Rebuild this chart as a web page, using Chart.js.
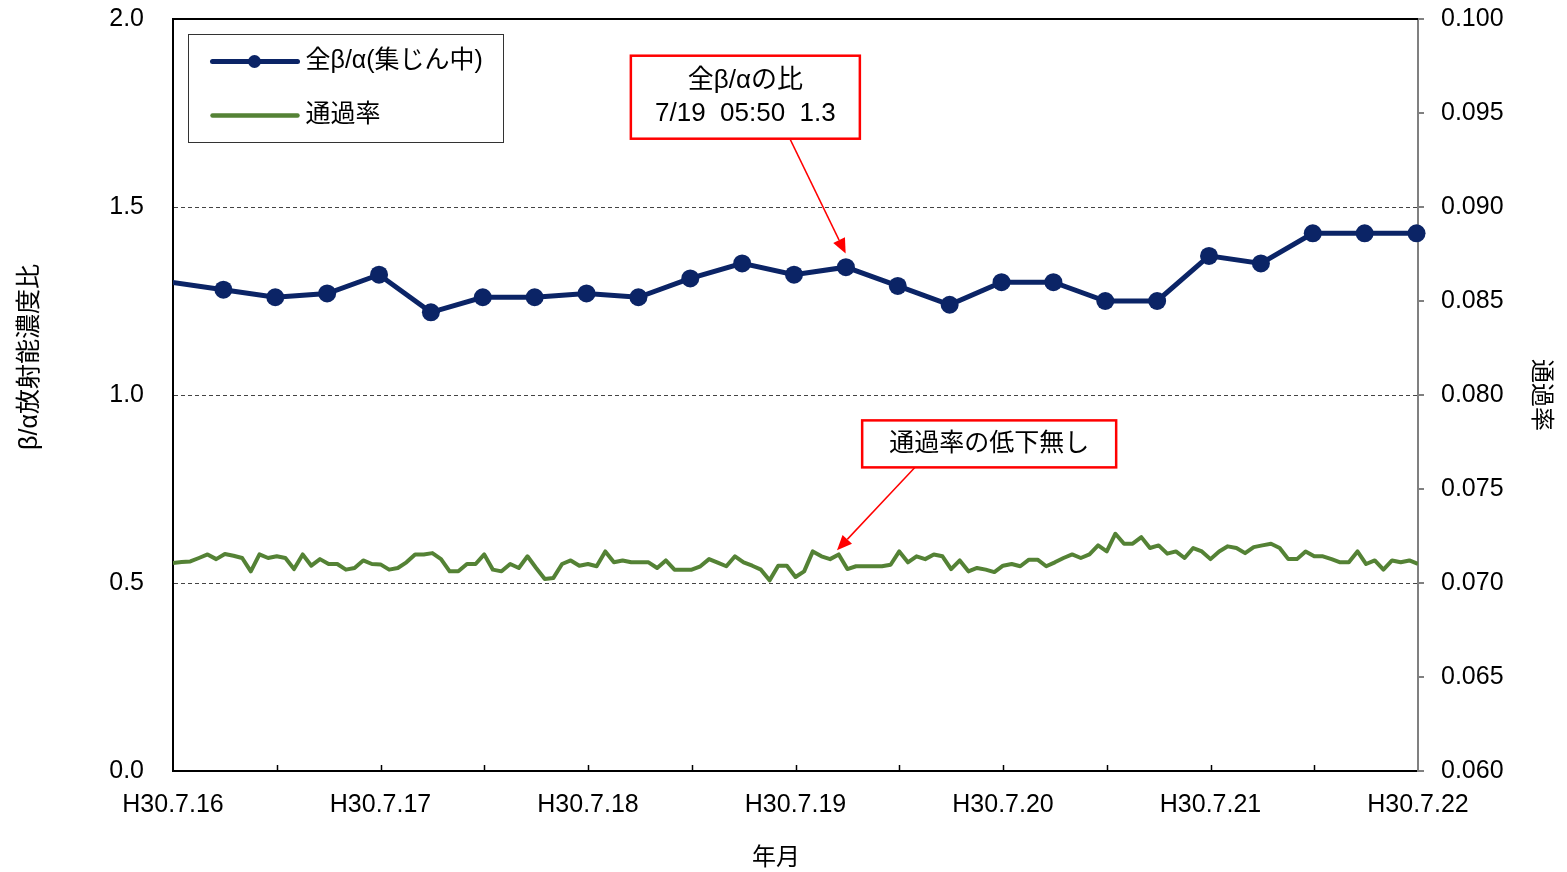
<!DOCTYPE html>
<html><head><meta charset="utf-8">
<script src="https://cdn.jsdelivr.net/npm/chart.js@4/dist/chart.umd.min.js"></script>
<style>html,body{margin:0;padding:0;background:#fff;overflow:hidden}</style>
</head><body>
<canvas id="c" width="1567" height="872" style="display:block"></canvas>
<script>
const dayLabels = ['H30.7.16','H30.7.17','H30.7.18','H30.7.19','H30.7.20','H30.7.21','H30.7.22'];
// hours after H30.7.16 00:00 for each 全β/α sample (6-hourly, xx:50)
const ratioHours = [-0.17,5.83,11.83,17.83,23.83,29.83,35.83,41.83,47.83,53.83,59.83,65.83,71.83,77.83,83.83,89.83,95.83,101.83,107.83,113.83,119.83,125.83,131.83,137.83,143.83];
const ratioValues = [1.30,1.28,1.26,1.27,1.32,1.22,1.26,1.26,1.27,1.26,1.31,1.35,1.32,1.34,1.29,1.24,1.30,1.30,1.25,1.25,1.37,1.35,1.43,1.43,1.43];
// hourly 通過率
const passValues = [
0.07106,0.07112,0.07115,0.07133,0.07152,0.07127,0.07154,0.07145,0.07133,0.07062,0.07152,0.07133,
0.07142,0.07133,0.07074,0.07152,0.07092,0.07127,0.07101,0.07101,0.07071,0.07080,0.07120,0.07101,
0.07099,0.07071,0.07080,0.07110,0.07152,0.07152,0.07159,0.07127,0.07062,0.07062,0.07101,0.07101,
0.07152,0.07071,0.07062,0.07101,0.07080,0.07142,0.07080,0.07021,0.07027,0.07101,0.07120,0.07092,
0.07101,0.07089,0.07168,0.07110,0.07120,0.07110,0.07110,0.07110,0.07080,0.07120,0.07071,0.07071,
0.07071,0.07089,0.07127,0.07108,0.07089,0.07142,0.07110,0.07092,0.07071,0.07014,0.07092,0.07092,
0.07032,0.07062,0.07168,0.07142,0.07127,0.07152,0.07074,0.07089,0.07089,0.07089,0.07089,0.07097,
0.07168,0.07110,0.07142,0.07127,0.07152,0.07142,0.07074,0.07120,0.07062,0.07080,0.07071,0.07058,
0.07092,0.07101,0.07089,0.07124,0.07124,0.07089,0.07110,0.07133,0.07152,0.07133,0.07152,0.07200,
0.07168,0.07262,0.07209,0.07209,0.07244,0.07186,0.07200,0.07156,0.07168,0.07133,0.07186,0.07168,
0.07127,0.07168,0.07195,0.07186,0.07159,0.07191,0.07200,0.07209,0.07186,0.07127,0.07127,0.07168,
0.07142,0.07142,0.07127,0.07110,0.07110,0.07168,0.07101,0.07120,0.07071,0.07120,0.07110,0.07120,
0.07101];
const leftTicks = ['0.0','0.5','1.0','1.5','2.0'];
const seriesNames = ['全β/α(集じん中)','通過率'];
const axisTitles = {x:'年月', y:'β/α放射能濃度比', y2:'通過率'};
const noteRatio = ['全β/αの比','7/19  05:50  1.3'];
const notePass = '通過率の低下無し';

const BLUE = '#0b2466';
const GREEN = '#548235';
const FONT = "'Liberation Sans', Arial, 'Noto Sans CJK JP', sans-serif";

const ratioData = ratioHours.map((h,i)=>({x:h, y:ratioValues[i]}));
const passData = passValues.map((v,i)=>({x:i, y:v}));

function arrow(ctx, x1,y1,x2,y2){
  const ang = Math.atan2(y2-y1, x2-x1);
  const L = 15, W = 6.5;
  const bx = x2 - L*Math.cos(ang), by = y2 - L*Math.sin(ang);
  ctx.beginPath(); ctx.moveTo(x1,y1); ctx.lineTo(bx,by); ctx.stroke();
  ctx.beginPath();
  ctx.moveTo(x2,y2);
  ctx.lineTo(bx + W*Math.sin(ang), by - W*Math.cos(ang));
  ctx.lineTo(bx - W*Math.sin(ang), by + W*Math.cos(ang));
  ctx.closePath(); ctx.fill();
}
function noteBox(ctx, cx, cy, w, h, lines, lh, size){
  ctx.fillStyle='#fff'; ctx.fillRect(cx-w/2, cy-h/2, w, h);
  ctx.strokeStyle='#ff0000'; ctx.lineWidth=2.5; ctx.strokeRect(cx-w/2, cy-h/2, w, h);
  ctx.fillStyle='#000'; ctx.font=size+'px '+FONT; ctx.textAlign='center'; ctx.textBaseline='middle';
  const n = lines.length;
  lines.forEach((t,i)=>ctx.fillText(t, cx, cy + (i-(n-1)/2)*lh));
}
function noPad(s){ s.paddingTop=0; s.paddingBottom=0; s.paddingLeft=0; s.paddingRight=0; }

const decor = {
  id:'decor',
  beforeDatasetsDraw(chart){
    const {ctx, chartArea:a, scales:{x}} = chart;
    ctx.save();
    ctx.strokeStyle='#000'; ctx.lineWidth=2;
    ctx.beginPath(); ctx.moveTo(a.left-1, a.top); ctx.lineTo(a.right, a.top); ctx.stroke();
    ctx.lineWidth=1.5;
    for (let v=12; v<144; v+=12){
      const px = Math.round(x.getPixelForValue(v))+0.5;
      ctx.beginPath(); ctx.moveTo(px, a.bottom); ctx.lineTo(px, a.bottom-6); ctx.stroke();
    }
    // axis titles (x and left)
    ctx.fillStyle='#000'; ctx.textAlign='center'; ctx.textBaseline='middle';
    ctx.font='24px '+FONT;
    ctx.fillText(axisTitles.x, 776, 858);
    ctx.save(); ctx.translate(30, 357); ctx.rotate(-Math.PI/2);
    ctx.font='25px '+FONT; ctx.fillText(axisTitles.y, 0, 0); ctx.restore();
    ctx.restore();
  },
  afterDraw(chart){
    const {ctx, chartArea:a, scales:{x, y}} = chart;
    ctx.save();
    // legend
    const lx = a.left+15.5, ly = a.top+15.5, lw = 315, lh = 108;
    ctx.fillStyle='#fff'; ctx.fillRect(lx,ly,lw,lh);
    ctx.strokeStyle='#333'; ctx.lineWidth=1; ctx.strokeRect(lx,ly,lw,lh);
    const ds = chart.data.datasets;
    const rows = [ly+27, ly+81];
    ds.forEach((d,i)=>{
      ctx.strokeStyle=d.borderColor; ctx.lineWidth=i===0?5:4.5; ctx.lineCap='round';
      ctx.beginPath(); ctx.moveTo(lx+24, rows[i]); ctx.lineTo(lx+109, rows[i]); ctx.stroke();
      if (i===0){ ctx.fillStyle=d.borderColor; ctx.beginPath(); ctx.arc(lx+66, rows[i], 6.5, 0, Math.PI*2); ctx.fill(); }
      ctx.fillStyle='#000'; ctx.font='25px '+FONT; ctx.textAlign='left'; ctx.textBaseline='middle';
      ctx.fillText(d.label, lx+117, rows[i]);
    });
    ctx.lineCap='butt';
    // arrows
    ctx.strokeStyle='#ff0000'; ctx.fillStyle='#ff0000'; ctx.lineWidth=1.5;
    arrow(ctx, x.getPixelForValue(71.4), y.getPixelForValue(1.679), x.getPixelForValue(77.8), y.getPixelForValue(1.376));
    arrow(ctx, x.getPixelForValue(85.8), y.getPixelForValue(0.807), x.getPixelForValue(76.8), y.getPixelForValue(0.587));
    // note boxes
    noteBox(ctx, x.getPixelForValue(66.2), y.getPixelForValue(1.792), 229, 83, noteRatio, 33, 26);
    noteBox(ctx, x.getPixelForValue(94.4), y.getPixelForValue(0.870), 254, 47, [notePass], 0, 25);
    ctx.restore();
  }
};

new Chart(document.getElementById('c'), {
  type:'line',
  data:{datasets:[
    {label:seriesNames[0], data:ratioData, yAxisID:'y', borderColor:BLUE, backgroundColor:BLUE,
     borderWidth:5, pointBackgroundColor:BLUE, pointBorderColor:BLUE, pointBorderWidth:0,
     pointRadius:(c)=> (c.raw && c.raw.x < 0) ? 0 : 9, tension:0, clip:{left:0,top:false,right:12,bottom:false}},
    {label:seriesNames[1], data:passData, yAxisID:'y2', borderColor:GREEN, backgroundColor:GREEN,
     borderWidth:4, pointRadius:0, tension:0, borderJoinStyle:'round'}
  ]},
  options:{
    responsive:false, animation:false, devicePixelRatio:1,
    layout:{padding:{top:19,left:0,right:0,bottom:0}},
    plugins:{legend:{display:false}, tooltip:{enabled:false}},
    scales:{
      x:{type:'linear', min:0, max:144, afterFit:(s)=>{s.height=101; noPad(s);},
        ticks:{stepSize:12, autoSkip:false, maxRotation:0, color:'#000', font:{family:FONT,size:25}, padding:19,
          callback:(v)=> v%24===0 ? dayLabels[v/24] : ''},
        grid:{drawOnChartArea:false, drawTicks:false},
        border:{color:'#000', width:2},
        title:{display:false, text:axisTitles.x}
      },
      y:{position:'left', min:0, max:2, afterFit:(s)=>{s.width=173; noPad(s);},
        ticks:{stepSize:0.5, color:'#000', font:{family:FONT,size:25}, padding:29,
          callback:(v,i)=> leftTicks[Math.round(v/0.5)]},
        grid:{drawTicks:false, lineWidth:1,
          color:(c)=> (c.tick && (c.tick.value<=0 || c.tick.value>=2)) ? 'rgba(0,0,0,0)' : '#444'},
        border:{color:'#000', width:2, dash:[4,3]},
        title:{display:false, text:axisTitles.y}
      },
      y2:{position:'right', min:0.06, max:0.1, afterFit:(s)=>{s.width=149; noPad(s);},
        ticks:{stepSize:0.005, color:'#000', font:{family:FONT,size:25}, padding:17,
          callback:(v)=> v.toFixed(3)},
        grid:{drawOnChartArea:false, drawTicks:true, tickLength:6, color:'#808080', lineWidth:2},
        border:{color:'#808080', width:2},
        title:{display:true, text:axisTitles.y2, color:'#000', font:{family:FONT,size:24}, padding:{top:12,bottom:0}}
      }
    }
  },
  plugins:[decor]
});
</script>
</body></html>
